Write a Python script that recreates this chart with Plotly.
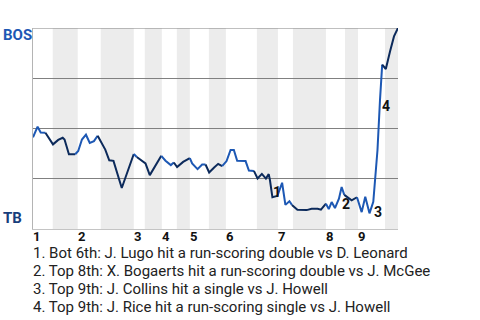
import plotly.graph_objects as go

# Game progress (0-100) and BOS win probability (0-1)
prog = [0, 1.26, 2.11, 3.40, 5.48, 6.91, 8.14, 8.64, 9.84, 11.57, 12.39, 13.41, 14.51, 15.55,
        16.70, 17.71, 18.76, 19.80, 20.89, 22.05, 24.32, 27.61, 28.43, 30.82, 32.0, 35.15,
        36.30, 37.76, 38.58, 39.48, 41.13, 42.50, 42.97, 43.60, 45.08, 46.34, 47.27, 48.26,
        49.63, 50.73, 51.82, 53.03, 54.13, 55.03, 55.94, 58.24, 59.15, 60.52, 61.53, 62.71,
        63.81, 64.58, 64.90, 65.59, 66.96, 68.25, 69.15, 70.25, 70.94, 72.44, 74.97, 76.34,
        77.98, 78.89, 80.26, 81.03, 81.82, 82.73, 83.82, 84.56, 85.28, 87.30, 88.76, 90.05,
        91.03, 92.19, 93.23, 93.70, 94.38, 95.07, 95.67, 96.66, 97.81, 98.90, 100]
wp = [0.456, 0.509, 0.480, 0.479, 0.421, 0.443, 0.454, 0.445, 0.372, 0.372, 0.388, 0.445,
      0.469, 0.428, 0.437, 0.464, 0.428, 0.395, 0.342, 0.339, 0.204, 0.373, 0.358, 0.326,
      0.268, 0.364, 0.340, 0.318, 0.331, 0.308, 0.334, 0.348, 0.353, 0.326, 0.298, 0.321,
      0.321, 0.281, 0.306, 0.324, 0.313, 0.338, 0.393, 0.393, 0.339, 0.338, 0.291, 0.289,
      0.251, 0.274, 0.251, 0.273, 0.245, 0.158, 0.165, 0.230, 0.120, 0.138, 0.120, 0.096,
      0.094, 0.101, 0.101, 0.096, 0.126, 0.099, 0.134, 0.104, 0.151, 0.209, 0.170, 0.1425,
      0.158, 0.084, 0.160, 0.078, 0.135, 0.226, 0.393, 0.643, 0.818, 0.796, 0.883, 0.958, 1.0]

# Half-inning boundaries (top/bottom alternate)
half_starts = [0, 5.40, 12.26, 18.56, 27.61, 30.63, 35.29, 39.40, 42.97, 48.18, 52.84,
               61.34, 67.10, 71.21, 80.26, 85.47, 89.03, 96.44, 100]
innings = ["1", "2", "3", "4", "5", "6", "7", "8", "9"]

# Key events
event_x = [66.85, 85.88, 94.6, 96.63]
event_y = [0.184, 0.126, 0.084, 0.6125]
event_lbl = ["1", "2", "3", "4"]
event_text = [
    "1. Bot 6th: J. Lugo hit a run-scoring double vs D. Leonard",
    "2. Top 8th: X. Bogaerts hit a run-scoring double vs J. McGee",
    "3. Top 9th: J. Collins hit a single vs J. Howell",
    "4. Top 9th: J. Rice hit a run-scoring single vs J. Howell",
]

BLUE = "#1d58b4"
NAVY = "#0c2a5b"
FONT = "Roboto"

fig = go.Figure()

# shaded bottom halves
for i in range(1, len(half_starts) - 1, 2):
    fig.add_shape(type="rect", xref="x", yref="paper", x0=half_starts[i], x1=half_starts[i + 1],
                  y0=0, y1=1, fillcolor="#ececec", line_width=0, layer="below")

# top border line (gridline at 100%)
fig.add_shape(type="line", xref="paper", yref="y", x0=0, x1=1, y0=1, y1=1,
              line=dict(color="#808080", width=1), layer="below")

# line segments colored by half-inning
for h in range(len(half_starts) - 1):
    a, b = half_starts[h], half_starts[h + 1]
    idx = [i for i, x in enumerate(prog) if a < x <= b or (h == 0 and x == 0)]
    if not idx:
        continue
    if idx[0] > 0:
        idx = [idx[0] - 1] + idx
    fig.add_trace(go.Scatter(x=[prog[i] for i in idx], y=[wp[i] for i in idx], mode="lines",
                             line=dict(color=BLUE if h % 2 == 0 else NAVY, width=2),
                             hoverinfo="skip", showlegend=False))

# event labels
for x, y, t in zip(event_x, event_y, event_lbl):
    fig.add_annotation(x=x, y=y, text=t, showarrow=False,
                       font=dict(family=FONT, size=14, color="#111111", weight="bold"))

# inning labels
for k, t in enumerate(innings):
    fig.add_annotation(x=half_starts[2 * k], xref="x", y=0, yref="paper", text="<b>" + t + "</b>",
                       showarrow=False, xanchor="left", yanchor="top", yshift=1, xshift=-1,
                       borderpad=0, font=dict(family=FONT, size=13, color="#111111"))

# team labels
fig.add_annotation(x=0, y=1, xref="paper", yref="paper", text="BOS", showarrow=False,
                   xanchor="left", yanchor="top", xshift=-32, yshift=4,
                   font=dict(family=FONT, size=15, color="#1d58b4", weight="bold"))
fig.add_annotation(x=0, y=0, xref="paper", yref="paper", text="TB", showarrow=False,
                   xanchor="left", yanchor="bottom", xshift=-32, yshift=0,
                   font=dict(family=FONT, size=15, color="#183e7c", weight="bold"))

# event descriptions
for k, t in enumerate(event_text):
    fig.add_annotation(x=0, y=0, xref="paper", yref="paper", text=t, showarrow=False,
                       xanchor="left", yanchor="middle", xshift=-1, yshift=-24 - 18 * k,
                       borderpad=0, font=dict(family=FONT, size=15, color="#222222"))

fig.update_layout(
    width=480, height=320,
    margin=dict(l=33, r=82, t=28, b=91),
    plot_bgcolor="white", paper_bgcolor="white",
    xaxis=dict(range=[0, 100], showgrid=False, zeroline=False, showticklabels=False,
               showline=True, linecolor="#c4c4c4", linewidth=1, ticks=""),
    yaxis=dict(range=[0, 1], tickvals=[0.25, 0.5, 0.75], showgrid=True,
               gridcolor="#808080", gridwidth=1, zeroline=False, showticklabels=False,
               showline=True, linecolor="#b4b4b4", linewidth=1, ticks=""),
)

fig.write_html("out.html")
